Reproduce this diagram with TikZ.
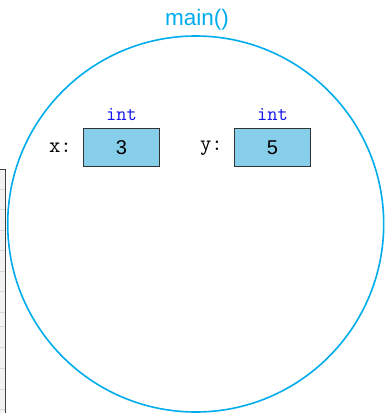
\documentclass[tikz,border=0pt]{standalone}
\usepackage{fontspec}
\newfontfamily\arialfont{Liberation Sans}
\definecolor{pcyan}{RGB}{0,172,236}
\definecolor{boxfill}{RGB}{135,206,235}
\definecolor{tyblue}{RGB}{20,20,240}
\begin{document}
\begin{tikzpicture}[x=1pt,y=-1pt,
  varbox/.style={draw=black!80, fill=boxfill, line width=0.8pt, minimum width=76pt, minimum height=38.5pt, inner sep=0pt, font=\arialfont\fontsize{20}{20}\selectfont},
  typelabel/.style={text=tyblue, font=\ttfamily\fontsize{20}{20}\selectfont, inner sep=0pt},
  namelabel/.style={font=\ttfamily\fontsize{22}{22}\selectfont, inner sep=0pt}]
\useasboundingbox (0,0) rectangle (386,413);
% partial panel at the left edge
\path[fill=black!5] (-5,169) rectangle (5.5,420);
\foreach \yy in {189,209.5,230,250.5,271,291.5,312,326,347,368,389,409}
  \draw[black!15, line width=0.5pt] (0,\yy) -- (5,\yy);
\draw[black!75, line width=1pt] (-5,169) -- (5.5,169) -- (5.5,420);
% main frame
\node[draw=pcyan, line width=1.6pt, circle, minimum size=376pt, inner sep=0pt] (frame) at (195.7,224) {};
\node[text=pcyan, font=\arialfont\fontsize{22.5}{22.5}\selectfont, anchor=base] (title) at (197,25) {main()};
% variables
\node[varbox] (xbox) at (121.5,147.5) {3};
\node[varbox] (ybox) at (272.5,147.5) {5};
\node[typelabel] (xtype) at (121.5,115) {int};
\node[typelabel] (ytype) at (272.5,115) {int};
\node[namelabel, anchor=east] (xname) at (72,148) {x:};
\node[namelabel, anchor=east] (yname) at (223,148) {y:};
\end{tikzpicture}
\end{document}
